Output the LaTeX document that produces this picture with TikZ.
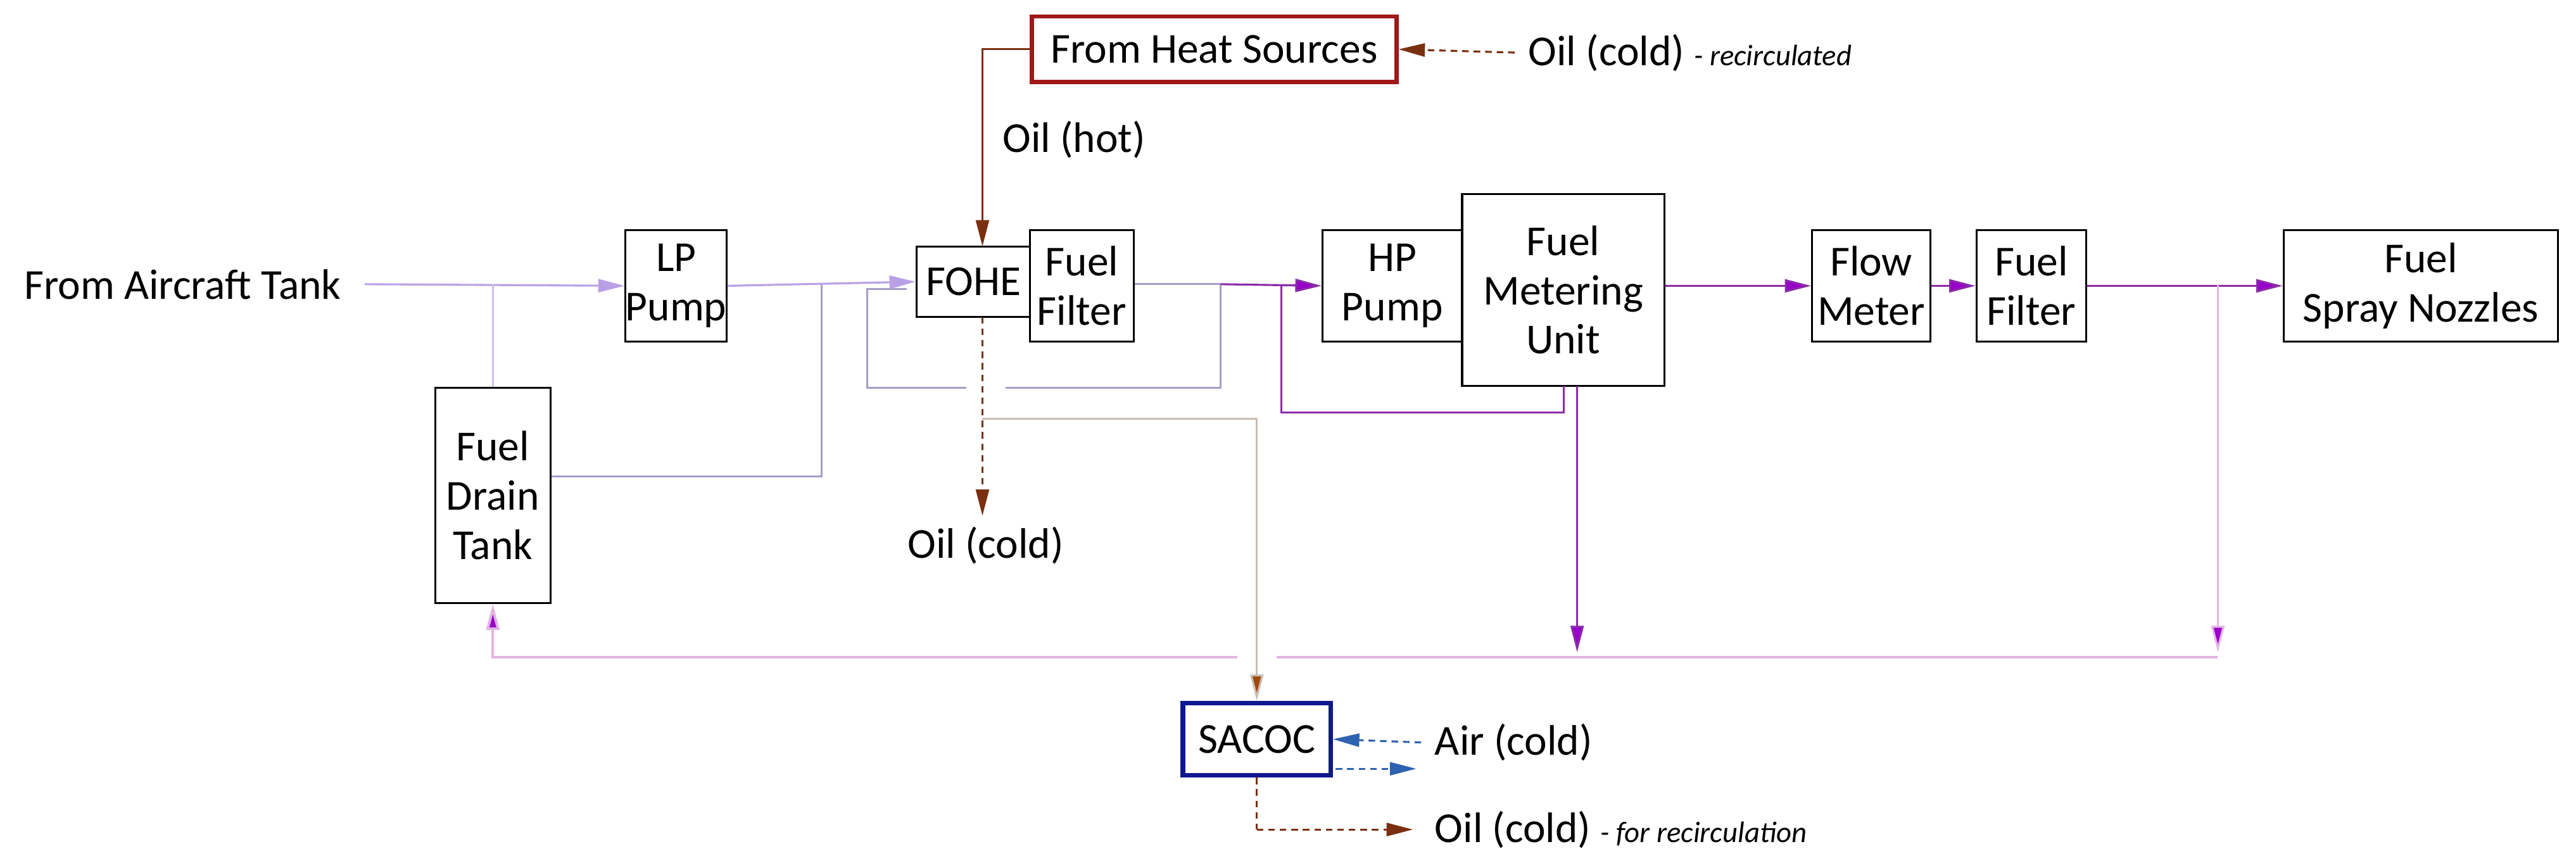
\documentclass[tikz,border=0pt]{standalone}
\usepackage{fontspec}
\setmainfont{Carlito}
\usetikzlibrary{arrows.meta}
\definecolor{lpur}{HTML}{B9A0E6}
\definecolor{lav}{HTML}{A89CC8}
\definecolor{dpur}{HTML}{8A2BA8}
\definecolor{vio}{HTML}{9A00CC}
\definecolor{pink}{HTML}{E2B4E2}
\definecolor{brn}{HTML}{7A3010}
\definecolor{tan}{HTML}{C8BDB2}
\definecolor{hred}{HTML}{A01818}
\definecolor{sblue}{HTML}{101890}
\definecolor{ablue}{HTML}{2E62B0}
\begin{document}
\begin{tikzpicture}[x=0.5pt,y=-0.5pt,
  every node/.style={font=\fontsize{13}{15}\selectfont},
  box/.style={draw=black,line width=0.6pt,inner sep=0pt,align=center},
  tip/.style={-{Triangle[width=4pt,length=8pt]}},
  vtip/.style={-{Triangle[width=4pt,length=8pt,fill=vio]}},
  lp/.style={lpur,line width=0.6pt},
  fl/.style={dpur,line width=0.6pt},
  oil/.style={brn,dash pattern=on 2pt off 1.5pt,line width=0.6pt},
  air/.style={ablue,dash pattern=on 2pt off 1.5pt,line width=0.6pt}]
\useasboundingbox (0,0) rectangle (1568,521);
\node[box,draw=hred,line width=1.3pt,minimum width=111pt,minimum height=20pt] (heat) at (739,30) {From Heat Sources};
\node[box,minimum width=28.5pt,minimum height=34pt] (lp) at (411.5,174) {LP\\Pump};
\node[box,minimum width=35pt,minimum height=65.5pt] (drain) at (300,301.5) {Fuel\\Drain\\Tank};
\node[box,minimum width=34.5pt,minimum height=21.5pt] (fohe) at (592.5,171.5) {FOHE};
\node[box,minimum width=31.5pt,minimum height=34pt] (f1) at (658.5,174) {Fuel\\Filter};
\node[box,minimum width=42.5pt,minimum height=34pt] (hp) at (847.5,174) {HP\\Pump};
\node[box,minimum width=61.5pt,minimum height=58.5pt] (fmu) at (951.5,176.5) {Fuel\\Metering\\Unit};
\node[box,minimum width=36pt,minimum height=34pt] (flow) at (1139,174) {Flow\\Meter};
\node[box,minimum width=33.5pt,minimum height=34pt] (f2) at (1236.5,174) {Fuel\\Filter};
\node[box,minimum width=83.5pt,minimum height=34pt] (spray) at (1473.5,174) {Fuel\\Spray Nozzles};
\node[box,draw=sblue,line width=1.4pt,minimum width=45pt,minimum height=22pt] (sacoc) at (765,450) {SACOC};
\node[anchor=east,inner sep=0pt] (tank) at (208,173) {From Aircraft Tank};
\node[anchor=west,inner sep=0pt] (ocr) at (930,32) {Oil (cold) \textit{\fontsize{9}{10}\selectfont - recirculated}};
\node[anchor=west,inner sep=0pt] (hot) at (610,85) {Oil (hot)};
\node[inner sep=0pt] (ocold) at (600,332) {Oil (cold)};
\node[anchor=west,inner sep=0pt] (air) at (873,452) {Air (cold)};
\node[anchor=west,inner sep=0pt] (orec) at (873,505) {Oil (cold) \textit{\fontsize{9}{10}\selectfont - for recirculation}};
\coordinate (a1) at (222,173);
\coordinate (j1) at (300,173);
\coordinate (j2) at (500,173);
\coordinate (j3) at (743,173);
\coordinate (j4) at (780,173);
\coordinate (j5) at (1350,173);
\coordinate (rl) at (1350,400);
\coordinate (ax) at (865,452);
\coordinate (ao) at (862,468);
\coordinate (oe) at (860,505);
\coordinate (oc) at (765,505);
\coordinate (os) at (922,32);
% oil
\draw[oil,tip] (os) -- (heat.east);
\draw[brn,line width=0.6pt,tip] (heat.west) -| (598,150);
\draw[oil,tip] (598,193) -- (598,314);
\draw[tan,line width=0.6pt,-{Triangle[width=4pt,length=8pt,fill=brn!70!orange]}] (598,255) -| (sacoc.north);
\draw[oil] (sacoc.south) -- (oc);
\draw[oil,tip] (oc) -- (oe);
\draw[air,tip] (ax) -- (sacoc.east);
\draw[air,tip] (813,468) -- (ao);
% fuel low pressure
\draw[lp,-{Triangle[width=4pt,length=8pt,fill=lpur]}] (a1) -- (lp.west);
\draw[lpur!70,line width=0.6pt] (j1) -- (drain.north);
\draw[lav,line width=0.6pt] (drain.east |- 0,290) -| (j2);
\draw[lp,tip] (lp.east) -- (fohe.west);
\draw[lav,line width=0.6pt] (f1.east |- j3) -- (j3) -- (743,236) -- (612,236);
\draw[lav,line width=0.6pt] (588,236) -- (528,236) -- (528,176) -- (552,176);
\draw[fl,vtip] (j3) -- (hp.west);
\draw[fl] (952,235) -- (952,251) -- (780,251) -- (j4);
\draw[fl,vtip] (960,235) -- (960,397);
\draw[fl,vtip] (fmu.east |- flow) -- (flow.west);
\draw[fl,vtip] (flow.east) -- (f2.west);
\draw[fl,vtip] (f2.east) -- (spray.west);
\draw[pink,line width=0.6pt,vtip] (j5) -- (1350,397);
\draw[pink,line width=0.8pt] (rl) -- (777,400);
\draw[pink,line width=0.8pt,vtip] (753,400) -- (300,400) -- (drain.south);
\end{tikzpicture}
\end{document}
